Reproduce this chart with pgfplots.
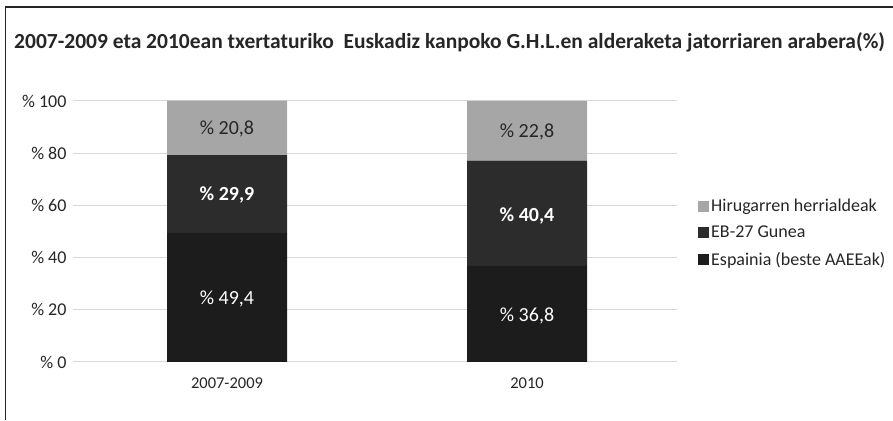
\documentclass[border=0pt]{standalone}
\usepackage{pgfplots}
\pgfplotsset{compat=1.18}
\usepackage{fontspec}
\setmainfont{Carlito}
\definecolor{cTop}{HTML}{A6A6A6}
\definecolor{cMid}{HTML}{2C2C2C}
\definecolor{cBot}{HTML}{1C1C1C}
\definecolor{cGrid}{HTML}{D9D9D9}
\definecolor{cTxt}{HTML}{262626}
\begin{document}
\begin{tikzpicture}[x=1pt,y=1pt]
\useasboundingbox (0,0) rectangle (893,420);
\draw[line width=1.5pt, color=cTxt] (5.5,0) -- (5.5,413) -- (893,413);
\node[anchor=west, inner sep=0pt, text=cTxt, font=\fontsize{21.5}{24}\selectfont\bfseries] at (14,378) {2007-2009 eta 2010ean txertaturiko\ \ Euskadiz kanpoko G.H.L.en alderaketa jatorriaren arabera(\%)};
\begin{axis}[
  at={(77pt,58pt)}, anchor=south west,
  scale only axis, width=600pt, height=261pt,
  ybar stacked, bar width=120pt,
  xmin=-0.5, xmax=1.5, ymin=0, ymax=100,
  xtick={0,1}, xticklabels={2007-2009,2010},
  extra x ticks={-0.5,0.5,1.5}, extra x tick labels={},
  extra x tick style={major tick length=5pt, tick style={color=cGrid, line width=1pt}, tick pos=left},
  ytick={0,20,40,60,80,100},
  yticklabels={\% 0,\% 20,\% 40,\% 60,\% 80,\% 100},
  ymajorgrids, grid style={color=cGrid, line width=1pt},
  axis line style={draw=none},
  axis x line*=bottom,
  x axis line style={draw=cGrid, line width=1pt},
  xtick style={draw=none},
  ytick style={color=cGrid, line width=1pt},
  major tick length=4pt,
  tick align=outside,
  tick pos=left,
  y axis line style={draw=none},
  yticklabel style={font=\fontsize{18}{20}\selectfont, text=cTxt, xshift=-3pt},
  xticklabel style={font=\fontsize{16.5}{18}\selectfont, text=cTxt, yshift=-8pt},
  reverse legend,
  legend style={at={(1.03,0.494)}, anchor=west, draw=none, fill=none,
    font=\fontsize{18}{20}\selectfont, text=cTxt, row sep=9pt,
    /tikz/every even column/.append style={column sep=2pt}},
  legend cell align=left,
  legend image code/.code={\fill[#1] (0pt,-5.5pt) rectangle (11pt,5.5pt);},
]
\addplot[fill=cBot, draw=none] coordinates {(0,49.4) (1,36.8)};
\addplot[fill=cMid, draw=none] coordinates {(0,29.9) (1,40.4)};
\addplot[fill=cTop, draw=none] coordinates {(0,20.8) (1,22.8)};
\legend{Espainia (beste AAEEak),EB-27 Gunea,Hirugarren herrialdeak}
\end{axis}
\begin{axis}[
  at={(77pt,58pt)}, anchor=south west,
  scale only axis, width=600pt, height=261pt,
  xmin=-0.5, xmax=1.5, ymin=0, ymax=100,
  axis lines=none,
  nodes near coords, point meta=explicit symbolic,
  every node near coord/.style={anchor=center, font=\fontsize{20}{22}\selectfont},
]
\addplot[draw=none, mark=none, nodes near coords style={text=white}] table[meta=l] {
x y l
0 24.0 {\%\ 49,4}
1 17.5 {\%\ 36,8}
};
\addplot[draw=none, mark=none, nodes near coords style={text=white, font=\fontsize{20}{22}\selectfont\bfseries}] table[meta=l] {
x y l
0 64.0 {\%\ 29,9}
1 56.0 {\%\ 40,4}
};
\addplot[draw=none, mark=none, nodes near coords style={text=cTxt}] table[meta=l] {
x y l
0 89.3 {\%\ 20,8}
1 88.3 {\%\ 22,8}
};
\end{axis}
\end{tikzpicture}
\end{document}
